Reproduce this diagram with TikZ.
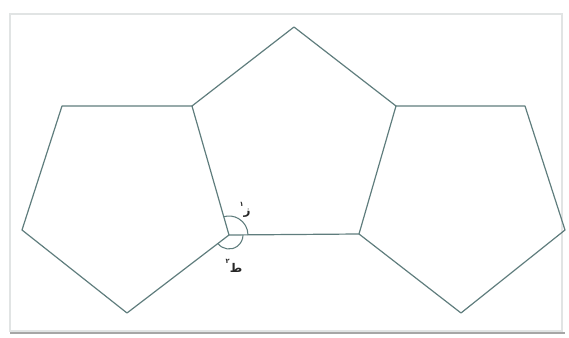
\documentclass[tikz,border=0pt]{standalone}
\usepackage{fontspec}
\newfontfamily\arabicfont[Script=Arabic]{DejaVu Sans}
\TeXXeTstate=1
\definecolor{edgegray}{RGB}{95,125,125}
\definecolor{framegray}{RGB}{225,228,228}
\begin{document}
\begin{tikzpicture}[x=0.75pt, y=-0.75pt,
  side/.style={draw=edgegray, line width=0.9pt, line join=round},
  ang/.style={draw=edgegray, line width=0.8pt},
  lbl/.style={font=\arabicfont\small\bfseries, inner sep=0pt, text=black!85}
]
  \useasboundingbox (0,0) rectangle (569,338);
  % cadre
  \draw[framegray, line width=1pt] (10,14) rectangle (562,331);
  \draw[gray!70, line width=1.6pt] (10,333) -- (565,333);

  % sommets
  \coordinate (t) at (294,27);
  \coordinate (a) at (192,106);
  \coordinate (b) at (396,106);
  \coordinate (v) at (229,235);
  \coordinate (w) at (359,234);
  \coordinate (l1) at (62,106);
  \coordinate (l2) at (22,230);
  \coordinate (l3) at (127,313);
  \coordinate (r1) at (525,106);
  \coordinate (r2) at (565,230);
  \coordinate (r3) at (461,313);

  % pentagones
  \draw[side] (t) -- (b) -- (w) -- (v) -- (a) -- cycle;
  \draw[side] (a) -- (l1) -- (l2) -- (l3) -- (v);
  \draw[side] (b) -- (r1) -- (r2) -- (r3) -- (w);

  % angles
  \draw[ang] ([shift={(0:19)}]v) arc[start angle=0, end angle=-106, radius=19];
  \draw[ang] ([shift={(143:14)}]v) arc[start angle=143, end angle=0, radius=14];

  \node[lbl] (z1) at (245,210) {\beginR ز\raisebox{1.3ex}{\tiny ١}\endR};
  \node[lbl] (z2) at (234,266) {\beginR ط\raisebox{1.3ex}{\tiny ٢}\endR};
\end{tikzpicture}
\end{document}
